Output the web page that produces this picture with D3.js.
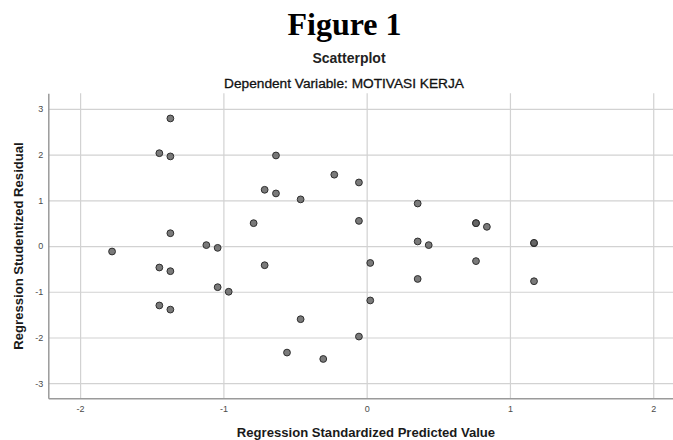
<!DOCTYPE html>
<html>
<head>
<meta charset="utf-8">
<script src="https://cdn.jsdelivr.net/npm/d3@7"></script>
<style>
  body { margin: 0; background: #fff; }
  svg { display: block; }
  .tick text { font-family: "Liberation Sans", Arial, sans-serif; font-size: 9px; fill: #4a4a4a; }
</style>
</head>
<body>
<div id="chart"></div>
<script>
// values
var predicted = [-1.370, -1.447, -1.370, -0.789, -1.370, -1.119, -1.040, -0.633, -0.226, -0.054,
                 -0.712, -0.633, -0.461, 0.356, -0.054, 0.356, 0.433, 0.763, 0.763, 0.839,
                 1.168, 1.168, -1.777, -1.447, -1.370, -1.040, -0.963, -1.447, -1.370, -0.712,
                 0.025, 0.356, 0.025, -0.461, -0.054, -0.556, -0.303, 0.763, 1.168];
var residual  = [2.79, 2.03, 1.96, 0.50, 0.28, 0.02, -0.04, 1.98, 1.56, 1.39,
                 1.23, 1.15, 1.02, 0.93, 0.55, 0.10, 0.02, 0.50, 0.50, 0.42,
                 0.06, 0.07, -0.12, -0.47, -0.55, -0.90, -1.00, -1.30, -1.39, -0.42,
                 -0.37, -0.72, -1.19, -1.60, -1.98, -2.33, -2.47, -0.33, -0.77];
var xTicks = [-2, -1, 0, 1, 2];
var yTicks = [-3, -2, -1, 0, 1, 2, 3];

var w = 673, h = 440;
var plotLeft = 48.3, plotRight = 673, plotTop = 93.3, plotBottom = 398.3;

var svg = d3.select("#chart").append("svg")
    .attr("width", w)
    .attr("height", h);

var x = d3.scaleLinear().domain([-2.222, 2.138]).range([plotLeft, plotRight]);
var y = d3.scaleLinear().domain([-3.33, 3.34]).range([plotBottom, plotTop]);

// plain hyphen for negatives, like the SPSS output
var fmt = function (d) { return String(d); };

//gridlines
svg.append("g")
    .attr("transform", "translate(0," + plotBottom + ")")
    .call(d3.axisBottom(x).tickValues(xTicks).tickSize(-(plotBottom - plotTop)).tickFormat(""))
    .call(function (g) {
        g.select(".domain").remove();
        g.selectAll("line").attr("stroke", "#d2d2d2").attr("stroke-width", 1.2);
    });
svg.append("g")
    .attr("transform", "translate(" + plotLeft + ",0)")
    .call(d3.axisLeft(y).tickValues(yTicks).tickSize(-(plotRight - plotLeft)).tickFormat(""))
    .call(function (g) {
        g.select(".domain").remove();
        g.selectAll("line").attr("stroke", "#d2d2d2").attr("stroke-width", 1.2);
    });

//axes with labels
svg.append("g")
    .attr("transform", "translate(0," + plotBottom + ")")
    .call(d3.axisBottom(x).tickValues(xTicks).tickSizeInner(0).tickSizeOuter(0).tickPadding(7).tickFormat(fmt))
    .call(function (g) {
        g.select(".domain").attr("stroke", "#9a9a9a").attr("stroke-width", 1.5);
    });
svg.append("g")
    .attr("transform", "translate(" + plotLeft + ",0)")
    .call(d3.axisLeft(y).tickValues(yTicks).tickSizeInner(0).tickSizeOuter(0).tickPadding(5).tickFormat(fmt))
    .call(function (g) {
        g.select(".domain").attr("stroke", "#9a9a9a").attr("stroke-width", 1.5);
    });

//points
svg.append("g").selectAll("circle")
    .data(predicted)
    .enter()
    .append("circle")
    .attr("cx", function (d) { return x(d); })
    .attr("cy", function (d, i) { return y(residual[i]); })
    .attr("r", 3.4)
    .attr("fill", "#636363")
    .attr("fill-opacity", 0.85)
    .attr("stroke", "#2e2e2e")
    .attr("stroke-width", 1);

//titles
svg.append("text")
    .attr("x", 344.5).attr("y", 35)
    .attr("text-anchor", "middle")
    .style("font-family", "'Liberation Serif', 'Times New Roman', serif")
    .style("font-weight", "bold")
    .style("font-size", "32px")
    .text("Figure 1");

svg.append("text")
    .attr("x", 349).attr("y", 63)
    .attr("text-anchor", "middle")
    .style("font-family", "'Liberation Sans', Arial, sans-serif")
    .style("font-weight", "bold")
    .style("font-size", "14px")
    .style("fill", "#222")
    .text("Scatterplot");

svg.append("text")
    .attr("x", 344).attr("y", 87.5)
    .attr("text-anchor", "middle")
    .style("font-family", "'Liberation Sans', Arial, sans-serif")
    .style("font-size", "13.7px")
    .style("fill", "#111")
    .style("stroke", "#111")
    .style("stroke-width", 0.3)
    .text("Dependent Variable: MOTIVASI KERJA");

svg.append("text")
    .attr("x", 366).attr("y", 437)
    .attr("text-anchor", "middle")
    .style("font-family", "'Liberation Sans', Arial, sans-serif")
    .style("font-weight", "bold")
    .style("font-size", "13.1px")
    .style("fill", "#1a1a1a")
    .text("Regression Standardized Predicted Value");

svg.append("text")
    .attr("transform", "translate(22.5,246) rotate(-90)")
    .attr("text-anchor", "middle")
    .style("font-family", "'Liberation Sans', Arial, sans-serif")
    .style("font-weight", "bold")
    .style("font-size", "13.1px")
    .style("fill", "#1a1a1a")
    .text("Regression Studentized Residual");
</script>
</body>
</html>
